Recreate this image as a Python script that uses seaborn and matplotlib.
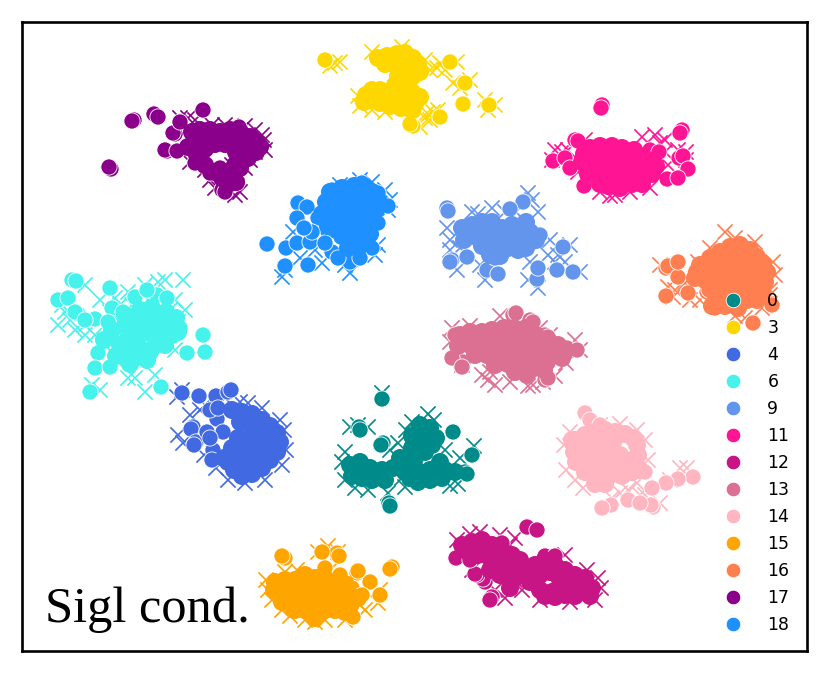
import matplotlib
matplotlib.use("Agg")
import matplotlib.pyplot as plt
import seaborn as sns
import pandas as pd

labels = ["0","3","4","6","9","11","12","13","14","15","16","17","18"]
colors = ["#008B8B","#FFD700","#4169E1","#46F2EC","#6495ED","#FF1493","#C71585","#DB7093","#FFB6C1","#FFA500","#FF7F50","#8B008B","#1E90FF"]

# cluster points: body (dense core), cross, circle
body_0 = [(350,465),(360,462),(370,468),(382,470),(393,468),(405,465),(415,458),(425,452),(432,445),(420,442),(412,448),(400,458),(425,430),(420,425),(430,428),(412,436),(436,438),(352,476),(362,478),(372,480),(385,480),(410,478),(420,475),(430,470),(440,462),(445,470),(455,472),(405,472),(415,468),(430,480),(442,478),(418,482)]
cross_0 = [(382,393),(350,427),(368,427),(358,425),(406,430),(398,443),(390,450),(474,446),(460,458),(388,493),(405,487),(402,478),(345,452),(342,462),(345,480),(355,488),(368,490),(445,450),(458,484),(450,486),(412,422),(428,414),(434,420)]
circ_0 = [(382,399),(359,427),(360,430),(383,443),(381,445),(389,503),(390,506),(453,432),(472,455),(465,472),(467,474)]

body_3 = [(378,58),(387,56),(397,54),(405,53),(413,58),(418,64),(420,72),(413,76),(405,68),(395,64),(385,64),(398,76),(408,82),(400,88),(412,92),(395,85),(366,95),(372,90),(380,90),(390,92),(402,100),(370,100),(380,103),(390,106),(401,108),(412,110),(415,104),(420,97),(364,102)]
cross_3 = [(335,63),(330,66),(340,62),(453,83),(470,80),(457,62),(440,63),(430,70),(485,100),(495,105),(488,110),(430,120),(420,127),(433,112),(372,110),(360,106),(385,112),(445,70),(460,88),(425,118),(412,122),(358,96),(372,52),(402,47),(425,60),(438,110),(427,113),(437,68)]
circ_3 = [(325,60),(450,62),(465,83),(463,104),(489,105),(440,117),(413,126),(410,124)]

body_4 = [(232,410),(242,412),(252,414),(262,420),(270,426),(277,433),(280,442),(277,452),(270,460),(262,468),(252,474),(242,476),(234,470),(228,462),(236,456),(248,450),(260,445),(270,442),(262,432),(250,425),(240,422),(238,438),(250,438),(245,466),(258,460),(270,452),(224,458),(232,448)]
cross_4 = [(177,397),(183,443),(178,435),(182,390),(205,405),(248,403),(262,408),(280,420),(284,430),(286,450),(282,465),(265,480),(245,483),(228,480),(216,468),(204,455),(240,402),(225,398),(200,410),(190,415)]
circ_4 = [(182,393),(199,396),(216,396),(228,392),(231,390),(193,427),(191,429),(217,419),(223,432),(196,442),(194,445),(213,450),(212,460),(230,452),(210,410),(207,432),(218,408),(210,438)]

body_6 = [(112,330),(125,325),(135,322),(145,318),(155,320),(165,325),(172,335),(160,335),(150,332),(140,335),(128,338),(120,345),(130,350),(142,350),(155,345),(165,345),(135,358),(147,360),(130,364),(150,352),(140,310),(152,308),(125,315),(178,332),(166,312),(104,340),(176,318),(116,356)]
cross_6 = [(183,280),(165,280),(158,282),(145,285),(85,285),(62,305),(58,325),(75,330),(145,392),(135,378),(100,390),(170,310),(185,310),(175,300),(178,322),(100,300),(115,298),(128,292),(70,320),(85,325),(65,312),(128,378),(92,385),(155,375),(175,350),(120,305),(132,305),(148,300),(110,312),(160,312),(105,345),(95,335),(85,335),(118,362)]
circ_6 = [(72,280),(76,281),(110,288),(58,300),(68,298),(78,314),(75,312),(112,308),(95,319),(108,322),(135,297),(157,295),(167,298),(147,290),(203,335),(180,328),(98,353),(95,368),(110,367),(90,392),(161,387),(187,353),(205,352),(85,320),(123,312)]

body_9 = [(462,228),(472,225),(482,222),(492,222),(502,228),(512,225),(522,228),(530,232),(536,240),(530,242),(520,238),(510,238),(498,236),(486,234),(474,236),(464,240),(482,246),(494,246),(508,248),(518,250),(526,248),(490,255),(500,256),(518,230),(526,222)]
cross_9 = [(447,228),(450,240),(528,193),(532,200),(538,212),(505,212),(472,212),(555,262),(550,240),(565,262),(580,272),(538,288),(528,280),(450,250),(457,270),(480,265),(485,280),(548,255),(530,262),(478,214),(492,208),(558,255),(570,245),(460,248),(516,212)]
circ_9 = [(447,208),(448,211),(523,202),(510,209),(563,247),(573,272),(557,270),(537,279),(538,268),(452,260),(450,262),(467,257),(487,270),(498,274),(495,258),(540,235)]

body_11 = [(590,148),(600,146),(612,146),(622,148),(634,150),(584,154),(590,154),(602,152),(614,154),(626,154),(638,155),(648,160),(582,162),(590,165),(602,162),(614,165),(626,165),(638,166),(648,168),(656,166),(588,174),(596,175),(608,176),(620,176),(632,176),(644,176),(652,174),(600,184),(608,186),(620,188),(632,184),(642,184)]
cross_11 = [(555,150),(552,160),(568,150),(585,140),(642,137),(655,135),(665,140),(678,150),(686,152),(578,172),(600,192),(615,195),(630,192),(650,188),(668,165),(665,152),(686,160),(610,196),(660,143),(562,152)]
circ_11 = [(602,105),(601,108),(682,130),(680,133),(575,140),(578,141),(553,161),(565,158),(570,168),(650,150),(659,152),(679,158),(683,156),(688,169),(667,179),(678,178),(587,183),(584,186)]

body_12 = [(462,545),(472,542),(482,540),(492,545),(502,550),(512,555),(468,552),(478,555),(490,558),(500,562),(510,568),(520,560),(490,570),(500,575),(515,578),(525,570),(535,565),(545,560),(555,565),(565,570),(575,575),(585,578),(592,588),(540,575),(550,572),(560,580),(570,585),(582,590),(530,582),(540,590),(552,592),(565,595),(575,596),(590,596),(545,596),(555,597),(510,588)]
cross_12 = [(470,534),(457,540),(480,532),(500,535),(510,545),(515,538),(472,570),(505,598),(495,590),(522,590),(598,578),(601,588),(595,600),(587,570),(565,555),(550,590),(570,602),(540,600),(515,580)]
circ_12 = [(527,527),(537,530),(456,558),(492,597),(490,600),(485,582),(483,579),(502,543),(477,575),(475,574),(470,560),(545,556),(555,556)]

body_13 = [(460,335),(470,332),(482,332),(492,330),(504,328),(514,328),(526,328),(536,335),(548,340),(558,345),(566,350),(458,346),(470,345),(482,345),(494,342),(506,340),(518,340),(530,345),(542,350),(554,355),(562,358),(475,355),(487,355),(499,352),(511,352),(523,355),(535,358),(547,362),(495,365),(508,364),(520,366),(532,368),(544,370),(515,372),(527,375)]
cross_13 = [(452,328),(450,342),(495,385),(533,385),(543,382),(528,386),(482,375),(488,380),(510,382),(462,365),(566,363),(580,350),(575,340),(555,376),(550,335),(500,316),(540,328),(470,326),(490,372)]
circ_13 = [(513,315),(516,313),(530,320),(533,322),(545,335),(548,337),(463,362),(452,358),(455,335),(567,348),(577,350),(545,380),(548,378),(462,367)]

body_14 = [(575,440),(585,435),(595,432),(605,430),(615,432),(625,434),(633,438),(637,445),(638,455),(632,460),(620,455),(608,450),(596,450),(584,448),(574,452),(572,440),(576,462),(587,462),(600,462),(612,465),(625,468),(636,465),(640,470),(585,472),(597,475),(610,475),(622,476),(632,472),(595,484),(605,484),(597,440),(614,440)]
cross_14 = [(680,468),(687,468),(637,483),(620,493),(660,503),(583,488),(637,430),(570,432),(564,445),(566,470),(575,480),(628,490),(612,498),(645,440),(648,460),(600,425),(620,424),(645,495),(670,480),(640,495)]
circ_14 = [(585,413),(590,420),(600,425),(693,477),(678,479),(666,483),(652,488),(653,507),(651,505),(628,500),(611,505),(602,508),(640,503),(645,472)]

body_15 = [(275,582),(285,580),(295,580),(305,575),(315,578),(325,578),(335,582),(345,584),(274,590),(282,590),(292,590),(302,588),(312,588),(322,586),(332,590),(342,592),(350,596),(282,602),(292,603),(302,600),(312,600),(322,600),(332,602),(342,604),(350,606),(295,610),(305,610),(315,612),(325,610),(335,610),(345,612),(315,618),(358,598)]
cross_15 = [(266,580),(268,590),(272,600),(282,610),(290,616),(305,620),(315,622),(325,620),(345,620),(365,610),(378,603),(285,572),(297,570),(318,552),(328,546),(338,552),(380,590),(360,605),(330,570)]
circ_15 = [(285,558),(282,556),(337,553),(339,556),(322,552),(392,567),(390,569),(340,575),(357,573),(358,571),(370,582),(380,595),(352,588),(353,617),(325,568),(362,595)]

body_16 = [(700,265),(710,258),(720,252),(730,247),(740,245),(750,250),(757,257),(763,264),(767,272),(697,272),(707,268),(717,262),(727,258),(737,255),(747,262),(757,268),(695,278),(705,280),(715,275),(725,270),(735,268),(745,275),(755,280),(765,282),(712,290),(722,285),(732,282),(742,288),(752,292),(762,292),(735,295),(747,300),(757,300),(720,300),(712,306),(725,306),(738,308)]
cross_16 = [(725,232),(735,238),(710,248),(698,262),(773,262),(775,275),(770,290),(673,297),(668,287),(675,290),(685,283),(770,295),(660,265),(690,300),(700,300),(745,318),(735,316),(762,308),(755,242)]
circ_16 = [(666,268),(668,266),(678,277),(666,296),(688,293),(707,292),(709,290),(753,323),(770,303),(772,305),(678,262),(715,308)]

body_17 = [(192,132),(200,130),(210,130),(220,132),(230,130),(240,132),(250,137),(256,142),(260,147),(256,152),(250,150),(248,158),(240,168),(232,175),(236,182),(228,184),(222,178),(215,172),(205,165),(197,155),(188,147),(195,140),(205,140),(215,140),(225,140),(235,140),(245,140),(240,150),(205,149),(215,144),(225,144),(236,152),(235,165)]
cross_17 = [(264,140),(265,150),(262,135),(255,130),(245,126),(250,160),(255,152),(237,172),(245,168),(240,192),(235,195),(215,188),(210,180),(188,118),(195,120),(180,118),(225,125),(212,125),(232,165),(205,170),(255,145),(190,162)]
circ_17 = [(134,120),(132,121),(154,114),(158,117),(111,169),(109,167),(203,110),(175,134),(173,133),(167,151),(165,150),(177,151),(195,163),(210,173),(220,168),(222,190),(225,192),(237,183),(239,127),(180,122)]

body_18 = [(330,192),(342,188),(354,186),(364,186),(372,192),(378,200),(326,202),(334,200),(346,198),(358,196),(370,198),(376,210),(332,212),(344,212),(356,210),(368,210),(374,222),(340,224),(352,224),(364,224),(370,234),(342,236),(354,238),(364,240),(348,248),(358,248),(322,214),(328,226)]
cross_18 = [(282,277),(350,273),(322,263),(293,232),(388,210),(390,200),(385,190),(372,182),(360,180),(340,185),(378,245),(300,258),(345,265),(375,255),(285,270),(315,250)]
circ_18 = [(267,244),(285,266),(286,248),(308,265),(297,243),(298,203),(307,207),(297,218),(328,232),(332,252),(350,262),(372,248),(378,223),(388,206),(378,193),(362,183),(332,190),(310,242),(318,218),(312,232),(325,243),(304,228),(338,258),(360,258)]

title_text = "Sigl cond."

bodies = [body_0,body_3,body_4,body_6,body_9,body_11,body_12,body_13,body_14,body_15,body_16,body_17,body_18]
crosses = [cross_0,cross_3,cross_4,cross_6,cross_9,cross_11,cross_12,cross_13,cross_14,cross_15,cross_16,cross_17,cross_18]
circles = [circ_0,circ_3,circ_4,circ_6,circ_9,circ_11,circ_12,circ_13,circ_14,circ_15,circ_16,circ_17,circ_18]

def frame(groups):
    rows = [(x, y, lab) for lab, pts in zip(labels, groups) for x, y in pts]
    return pd.DataFrame(rows, columns=["x", "y", "cond"])

sns.set_theme(style="white")
plt.rcParams["font.family"] = ["DejaVu Sans"]
palette = dict(zip(labels, colors))

fig = plt.figure(figsize=(4.15, 3.385), dpi=200)
ax = fig.add_axes([21.5/830, 1-651/677, (807-21.5)/830, (651-22)/677])

sns.scatterplot(data=frame(crosses), x="x", y="y", hue="cond", hue_order=labels, palette=palette,
                marker="x", s=30, linewidth=0.6, legend=False, ax=ax, zorder=1)
sns.scatterplot(data=frame(circles), x="x", y="y", hue="cond", hue_order=labels, palette=palette,
                s=34, edgecolor="white", linewidth=0.3, ax=ax, zorder=2)
sns.scatterplot(data=frame(bodies), x="x", y="y", hue="cond", hue_order=labels, palette=palette,
                s=42, linewidth=0, legend=False, ax=ax, zorder=3)

ax.set_xlim(21.5, 807)
ax.set_ylim(651, 22)
ax.set_xlabel("")
ax.set_ylabel("")
ax.set_xticks([])
ax.set_yticks([])
for s in ax.spines.values():
    s.set_visible(True)
    s.set_color("black")
    s.set_linewidth(0.95)

leg = ax.legend(loc="lower right", bbox_to_anchor=(0.994, 0.006), frameon=False, fontsize=6.2,
          labelspacing=0.523, handletextpad=1.0, borderaxespad=0.35, markerscale=0.9)
leg.set_zorder(6)
for t in leg.get_texts():
    t.set_color("black")
ax.text(45, 622, title_text, family=["Liberation Serif"], fontsize=18.2, color="black", zorder=5)

fig.savefig("out.png", dpi=200)
